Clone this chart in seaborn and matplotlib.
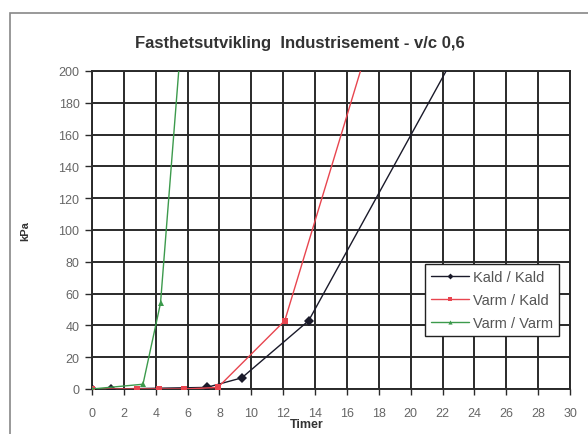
import matplotlib
matplotlib.use("Agg")
import matplotlib.pyplot as plt
import seaborn as sns
import pandas as pd
from matplotlib.patches import Rectangle

# Strength development, hours vs kPa
series_names = ["Kald / Kald", "Varm / Kald", "Varm / Varm"]
kald_kald_t = [0, 1.2, 7.2, 9.4, 13.6, 22.5]
kald_kald_p = [0, 0, 1, 7, 43, 205]
varm_kald_t = [0, 2.8, 4.2, 5.8, 7.9, 12.1, 17.0]
varm_kald_p = [0, 0, 0, 0, 1, 43, 205]
varm_varm_t = [0, 3.2, 4.3, 5.6]
varm_varm_p = [0, 3, 54, 220]

x_ticks = list(range(0, 31, 2))
y_ticks = list(range(0, 201, 20))

frames = []
for name, t, p in [(series_names[0], kald_kald_t, kald_kald_p),
                   (series_names[1], varm_kald_t, varm_kald_p),
                   (series_names[2], varm_varm_t, varm_varm_p)]:
    frames.append(pd.DataFrame({"Timer": t, "kPa": p, "serie": name}))
df = pd.concat(frames, ignore_index=True)

sns.set_style("white")
plt.rcParams["font.family"] = ["Liberation Sans", "DejaVu Sans"]

fig = plt.figure(figsize=(5.88, 4.35), dpi=100)
ax = fig.add_axes([92 / 588, 1 - 390 / 435, 478 / 588, 318 / 435])

palette = {"Kald / Kald": "#1a1a2a", "Varm / Kald": "#e8454f", "Varm / Varm": "#3c9a4c"}
markers = {"Kald / Kald": "D", "Varm / Kald": "s", "Varm / Varm": "^"}
sns.lineplot(data=df, x="Timer", y="kPa", hue="serie", style="serie",
             palette=palette, markers=markers, dashes=False, sort=False,
             estimator=None, linewidth=1.0, markersize=5,
             markeredgewidth=0, ax=ax, zorder=3)

ax.set_xlim(0, 30)
ax.set_ylim(0, 200)
ax.set_xticks(x_ticks)
ax.set_yticks(y_ticks)
ax.grid(True, color="#2a2a2a", linewidth=1.4)
ax.set_axisbelow(True)
for s in ax.spines.values():
    s.set_visible(True)
    s.set_color("#2a2a2a")
    s.set_linewidth(1.4)

ax.tick_params(axis="both", which="both", direction="out", length=5,
               width=1.0, color="#2a2a2a", labelsize=9, labelcolor="#666666",
               left=True, bottom=True)
ax.tick_params(axis="x", length=4, pad=9)
ax.tick_params(axis="y", pad=4)

ax.set_xlabel("Timer", fontsize=9, fontweight="bold", color="#333333")
ax.xaxis.set_label_coords(0.45, -0.11)
ax.xaxis.label.set_va("center")
ax.set_ylabel("kPa", fontsize=8, fontweight="bold", color="#333333")
ax.yaxis.set_label_coords(-0.13, 0.5)

fig.text(0.51, 0.9, "Fasthetsutvikling  Industrisement - v/c 0,6",
         ha="center", va="center", fontsize=12, fontweight="bold",
         color="#333333")

leg = ax.legend(loc="upper left", bbox_to_anchor=(0.697, 0.393), fontsize=10.5,
                frameon=True, fancybox=False, edgecolor="#222222",
                framealpha=1, borderpad=0.4, labelspacing=0.62,
                handlelength=2.6, handletextpad=0.3, borderaxespad=0,
                markerscale=0.6)
leg.get_frame().set_linewidth(1.0)
for txt in leg.get_texts():
    txt.set_color("#555555")

# outer chart frame
fig.patches.append(Rectangle((10 / 588, -0.05), 1.2, 1 - 14 / 435 + 0.05,
                             transform=fig.transFigure, fill=False,
                             edgecolor="#888888", linewidth=1.2))

fig.savefig("out.png", dpi=100, facecolor="white")
